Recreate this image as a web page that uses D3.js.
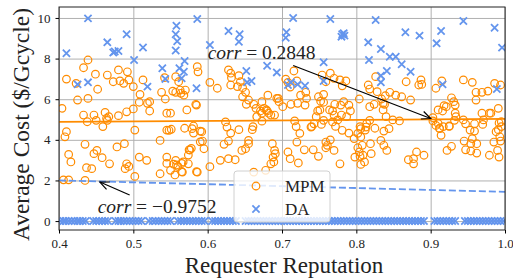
<!DOCTYPE html>
<html>
<head>
<script src="https://d3js.org/d3.v7.min.js"></script>
<style>
  body { margin: 0; background: #fff; }
  text { font-family: "Liberation Serif", serif; fill: #222; }
</style>
</head>
<body>
<svg width="513" height="279"></svg>
<script>
// MPM: scattered costs [reputation, cost]
var mpmPoints = [
  [0.439,7.93],[0.433,7.55],[0.41,6.99],[0.423,6.78],[0.449,7.23],[0.452,6.49],[0.425,5.96],[0.439,6.04],[0.404,5.55],[0.433,5.22],
  [0.447,5.22],[0.462,5.35],[0.467,5.14],[0.48,5.19],[0.465,7.19],[0.473,6.86],[0.48,7.44],[0.482,6.9],[0.487,6.78],[0.492,7.35],
  [0.494,6.95],[0.5,6.62],[0.513,6.95],[0.509,6.24],[0.508,5.85],[0.519,5.8],[0.522,5.42],[0.5,5.52],[0.491,5.38],[0.538,6.34],
  [0.543,6.01],[0.545,5.31],[0.542,7.06],[0.41,4.4],[0.408,4.15],[0.438,4.89],[0.459,4.65],[0.464,5.06],[0.502,4.48],[0.522,5.88],
  [0.545,4.48],[0.551,4.52],[0.572,5.47],[0.569,4.57],[0.581,4.68],[0.585,5.71],[0.592,4.4],[0.563,6.45],[0.45,4.96],[0.465,4.96],
  [0.536,3.97],[0.435,3.78],[0.413,3.28],[0.416,2.91],[0.451,3.48],[0.447,3.32],[0.458,3.12],[0.478,3.65],[0.488,3.81],[0.468,2.82],
  [0.437,2.63],[0.444,2.58],[0.491,2.82],[0.494,2.69],[0.489,2.58],[0.508,3.15],[0.518,2.99],[0.502,2.2],[0.536,2.33],[0.55,2.5],
  [0.545,3.15],[0.406,2.03],[0.413,2.03],[0.435,2.0],[0.556,2.27],[0.558,2.76],[0.565,2.43],[0.574,3.25],[0.576,3.5],[0.578,3.58],
  [0.585,2.43],[0.59,3.9],[0.603,2.68],[0.545,2.84],[0.554,2.8],[0.565,2.84],[0.548,4.47],[0.579,4.55],[0.581,4.33],[0.59,4.43],
  [0.593,3.94],[0.624,4.88],[0.626,4.63],[0.631,4.33],[0.642,4.5],[0.66,4.5],[0.655,3.97],[0.673,4.92],[0.622,3.78],[0.628,3.94],
  [0.617,2.99],[0.628,3.07],[0.637,3.02],[0.646,3.48],[0.651,3.56],[0.655,3.81],[0.687,3.81],[0.69,3.48],[0.691,3.32],[0.688,3.15],
  [0.689,2.91],[0.685,2.82],[0.662,2.41],[0.678,2.5],[0.665,1.71],[0.575,3.51],[0.557,2.99],[0.56,2.69],[0.567,2.91],[0.566,2.41],
  [0.574,2.82],[0.586,2.41],[0.595,3.56],[0.717,4.93],[0.739,4.63],[0.743,4.79],[0.753,4.76],[0.756,4.96],[0.768,4.88],[0.772,4.66],
  [0.781,4.47],[0.79,4.33],[0.797,4.06],[0.806,4.55],[0.813,4.63],[0.818,4.96],[0.837,4.43],[0.844,4.55],[0.806,4.14],[0.808,3.73],
  [0.819,3.81],[0.833,3.97],[0.837,3.73],[0.841,3.48],[0.72,3.89],[0.73,3.51],[0.742,3.51],[0.708,3.4],[0.711,3.07],[0.722,2.86],
  [0.749,3.19],[0.759,3.89],[0.761,3.73],[0.765,4.0],[0.759,3.61],[0.77,3.48],[0.778,2.82],[0.802,3.61],[0.804,3.4],[0.805,3.19],
  [0.798,3.15],[0.809,3.24],[0.811,2.91],[0.806,2.79],[0.82,3.32],[0.858,4.93],[0.903,4.93],[0.907,4.71],[0.912,4.55],[0.914,4.22],
  [0.925,4.66],[0.932,4.96],[0.947,4.79],[0.959,4.79],[0.97,4.76],[0.959,4.43],[0.992,4.83],[0.991,4.5],[0.956,4.06],[0.945,3.94],
  [0.954,3.81],[0.962,3.81],[0.985,3.89],[0.994,3.94],[0.947,3.51],[0.954,3.45],[0.962,3.35],[0.979,3.24],[0.99,3.48],[0.992,3.15],
  [0.922,3.48],[0.928,3.68],[0.87,3.02],[0.877,3.07],[0.881,3.4],[0.891,3.24],[0.877,2.82],[0.586,7.6],[0.587,7.35],[0.557,7.11],
  [0.561,6.86],[0.553,6.4],[0.557,6.34],[0.564,6.29],[0.568,6.2],[0.57,6.45],[0.584,5.75],[0.603,6.83],[0.613,6.54],[0.628,7.44],
  [0.631,7.28],[0.632,7.06],[0.642,7.16],[0.644,6.86],[0.631,6.7],[0.64,6.62],[0.647,6.57],[0.651,6.34],[0.647,6.12],[0.655,5.96],
  [0.652,5.75],[0.662,5.75],[0.665,5.55],[0.671,5.42],[0.676,5.55],[0.68,5.42],[0.682,5.31],[0.69,5.22],[0.681,6.2],[0.693,6.04],
  [0.696,5.88],[0.55,5.31],[0.716,7.39],[0.705,6.99],[0.765,7.28],[0.754,7.19],[0.77,7.03],[0.778,6.95],[0.786,6.9],[0.781,6.66],
  [0.759,6.86],[0.725,6.2],[0.732,6.34],[0.733,6.04],[0.721,5.8],[0.712,5.75],[0.731,5.71],[0.756,6.24],[0.756,5.85],[0.748,5.42],
  [0.768,5.42],[0.77,5.22],[0.779,5.71],[0.783,5.88],[0.79,5.71],[0.792,5.42],[0.804,6.01],[0.816,6.7],[0.818,6.5],[0.826,7.11],
  [0.828,6.37],[0.834,6.01],[0.839,6.17],[0.845,6.34],[0.824,5.75],[0.838,5.75],[0.701,5.63],[0.867,6.86],[0.887,6.95],[0.888,6.73],
  [0.884,6.7],[0.853,6.2],[0.861,6.12],[0.873,5.96],[0.915,6.9],[0.907,6.54],[0.944,6.95],[0.956,6.83],[0.969,6.34],[0.977,6.4],
  [0.961,6.34],[0.986,6.78],[0.994,6.7],[0.928,6.07],[0.931,5.88],[0.933,5.71],[0.918,5.68],[0.916,5.42],[0.933,5.31],[0.961,5.96],
  [0.981,5.31],[0.991,5.55],[0.903,5.09],[0.673,5.88],[0.679,5.47],[0.685,5.22],[0.695,6.04],[0.719,4.65],[0.724,4.32],[0.74,4.65],
  [0.746,5.14],[0.751,5.47],[0.764,5.47],[0.775,4.98],[0.78,5.22],[0.787,5.14],[0.805,4.65],[0.812,4.48],[0.825,4.57],[0.814,4.81],
  [0.836,5.47],[0.84,5.14],[0.849,4.98],[0.836,5.8],[0.818,5.63],[0.91,5.47],[0.921,5.63],[0.91,4.81],[0.912,4.57],[0.917,4.65],
  [0.925,4.68],[0.934,5.14],[0.944,4.98],[0.969,5.31],[0.971,4.98],[0.979,5.31],[0.995,4.89],[0.995,4.65],[0.988,4.4],[0.993,4.15],
  [0.953,4.48],[0.661,4.65],[0.666,5.14],[0.673,5.31],[0.708,6.83],[0.711,6.6],[0.72,6.9],[0.749,6.12],[0.752,5.9],[0.771,5.75],
  [0.802,4.32]
];

// DA: high outliers
var daHigh = [
  [0.439,9.98],[0.41,8.26],[0.465,8.8],[0.491,9.2],[0.473,8.3],[0.48,8.37],[0.475,8.35],[0.513,8.55],[0.501,7.93],[0.425,6.73],
  [0.439,6.83],[0.539,7.52],[0.543,7.0],[0.519,6.62],[0.558,9.62],[0.586,9.95],[0.557,9.2],[0.559,8.85],[0.557,8.4],[0.628,9.36],
  [0.643,9.2],[0.642,8.83],[0.603,8.67],[0.569,7.88],[0.562,7.52],[0.568,7.35],[0.565,7.03],[0.585,6.54],[0.652,7.39],[0.653,6.83],
  [0.659,6.9],[0.68,7.65],[0.693,7.32],[0.715,10.0],[0.765,9.95],[0.826,9.9],[0.706,9.3],[0.705,9.03],[0.781,9.2],[0.784,9.13],
  [0.78,9.08],[0.783,9.25],[0.816,8.8],[0.833,8.47],[0.845,8.09],[0.817,7.93],[0.756,7.82],[0.841,7.39],[0.833,7.16],[0.712,6.83],
  [0.721,6.73],[0.731,6.66],[0.756,6.9],[0.708,6.7],[0.833,6.83],[0.944,9.85],[0.986,9.52],[0.866,9.3],[0.885,9.13],[0.914,9.36],
  [0.908,8.75],[0.996,8.54],[0.853,8.09],[0.861,7.72],[0.873,7.35],[0.916,6.73],[0.989,6.5]
];

// DA: reputations of requesters whose cost is zero
var daZeroX = [
  0.402,0.406,0.409,0.413,0.417,0.421,0.425,0.428,0.432,0.436,0.446,0.45,0.454,0.458,0.462,0.466,0.476,0.48,0.483,0.487,
  0.491,0.495,0.499,0.503,0.507,0.511,0.521,0.526,0.53,0.534,0.538,0.542,0.546,0.55,0.56,0.564,0.568,0.572,0.576,0.58,
  0.584,0.588,0.592,0.596,0.606,0.61,0.614,0.618,0.622,0.626,0.63,0.634,0.638,0.651,0.655,0.659,0.663,0.667,0.671,0.675,
  0.679,0.683,0.687,0.691,0.695,0.699,0.703,0.707,0.711,0.715,0.719,0.723,0.727,0.731,0.735,0.739,0.743,0.747,0.751,0.755,
  0.759,0.763,0.767,0.771,0.775,0.779,0.783,0.787,0.791,0.795,0.799,0.803,0.807,0.811,0.815,0.819,0.823,0.827,0.831,0.835,
  0.839,0.843,0.847,0.851,0.855,0.859,0.863,0.867,0.871,0.875,0.879,0.883,0.887,0.891,0.905,0.909,0.913,0.917,0.921,0.925,
  0.929,0.933,0.946,0.95,0.954,0.958,0.962,0.966,0.97,0.974,0.978,0.982,0.986,0.99,0.994,0.998
];

// fitted trend lines (endpoints)
var mpmTrend = [[0.4, 4.88], [1.0, 5.03]];
var daTrend = [[0.4, 2.0], [1.0, 1.44]];

var xTicks = [0.4, 0.5, 0.6, 0.7, 0.8, 0.9, 1.0];
var yTicks = [0, 2, 4, 6, 8, 10];

var svg = d3.select('svg');
var margin = {left: 59, right: 8, top: 7, bottom: 49};
var w = 513, h = 279;
var innerWidth = w - margin.left - margin.right;
var innerHeight = h - margin.top - margin.bottom;

var x = d3.scaleLinear().domain([0.4, 1.0]).range([0, innerWidth]);
var y = d3.scaleLinear().domain([-0.44, 10.54]).range([innerHeight, 0]);

var orange = '#ff8c00';
var blue = '#6495ed';

var g = svg.append('g').attr('transform', `translate(${margin.left},${margin.top})`);

// grid
g.append('g')
  .attr('transform', `translate(0,${innerHeight})`)
  .call(d3.axisBottom(x).tickValues(xTicks).tickSize(-innerHeight).tickFormat(''))
  .call(s => s.select('.domain').remove())
  .selectAll('line').attr('stroke', '#b0b0b0').attr('stroke-width', 1);
g.append('g')
  .call(d3.axisLeft(y).tickValues(yTicks).tickSize(-innerWidth).tickFormat(''))
  .call(s => s.select('.domain').remove())
  .selectAll('line').attr('stroke', '#b0b0b0').attr('stroke-width', 1);

g.append('clipPath').attr('id', 'clip')
  .append('rect').attr('width', innerWidth).attr('height', innerHeight);
var plot = g.append('g').attr('clip-path', 'url(#clip)');

// MPM circles
plot.selectAll('circle.mpm').data(mpmPoints).enter().append('circle')
  .attr('class', 'mpm')
  .attr('cx', d => x(d[0]))
  .attr('cy', d => y(d[1]))
  .attr('r', 3.8)
  .attr('fill', 'none')
  .attr('stroke', orange)
  .attr('stroke-width', 1.2);

// DA crosses
function xMark(sel, s) {
  sel.attr('d', `M${-s},${-s}L${s},${s}M${-s},${s}L${s},${-s}`)
    .attr('fill', 'none')
    .attr('stroke', blue)
    .attr('stroke-width', 1.8);
}
var daAll = daHigh.concat(daZeroX.map(v => [v, 0]));
plot.selectAll('path.da').data(daAll).enter().append('path')
  .attr('class', 'da')
  .attr('transform', d => `translate(${x(d[0])},${y(d[1])})`)
  .call(xMark, 3.6);

// trend lines
var line = d3.line().x(d => x(d[0])).y(d => y(d[1]));
plot.append('path').datum(mpmTrend).attr('d', line)
  .attr('stroke', orange).attr('stroke-width', 1.8).attr('fill', 'none');
plot.append('path').datum(daTrend).attr('d', line)
  .attr('stroke', blue).attr('stroke-width', 1.8).attr('fill', 'none')
  .attr('stroke-dasharray', '7,3');

// frame
g.append('rect').attr('width', innerWidth).attr('height', innerHeight)
  .attr('fill', 'none').attr('stroke', '#222').attr('stroke-width', 1);

// axes
var xAxis = g.append('g').attr('transform', `translate(0,${innerHeight})`)
  .call(d3.axisBottom(x).tickValues(xTicks).tickSize(3.5).tickPadding(5).tickFormat(d3.format('.1f')));
xAxis.select('.domain').remove();
xAxis.selectAll('text').style('font-size', '13px').attr('fill', '#222')
  .style('font-family', '"Liberation Serif", serif');

var yAxis = g.append('g')
  .call(d3.axisLeft(y).tickValues(yTicks).tickSize(3.5).tickPadding(5));
yAxis.select('.domain').remove();
yAxis.selectAll('text').style('font-size', '13px').attr('fill', '#222')
  .style('font-family', '"Liberation Serif", serif');

svg.append('text')
  .attr('x', margin.left + innerWidth / 2 + 2)
  .attr('y', 273)
  .attr('text-anchor', 'middle')
  .style('font-size', '23px')
  .text('Requester Reputation');

svg.append('text')
  .attr('transform', `translate(29,${margin.top + innerHeight / 2 + 6}) rotate(-90)`)
  .attr('text-anchor', 'middle')
  .style('font-size', '23.5px')
  .text('Average Cost ($/Gcycle)');

// annotations
svg.append('defs').append('marker')
  .attr('id', 'arrow').attr('viewBox', '-10 -6 12 12')
  .attr('refX', 0).attr('refY', 0)
  .attr('markerWidth', 12).attr('markerHeight', 12)
  .attr('markerUnits', 'userSpaceOnUse')
  .attr('orient', 'auto')
  .append('path').attr('d', 'M-9,-4L0,0L-9,4')
  .attr('fill', 'none').attr('stroke', '#000').attr('stroke-width', 1.2);

function annotate(txt, tx, ty, from, to) {
  var t = g.append('text').attr('x', x(tx)).attr('y', y(ty)).style('font-size', '19.5px');
  t.append('tspan').style('font-style', 'italic').text('corr');
  t.append('tspan').text(' = ' + txt);
  g.append('line')
    .attr('x1', x(from[0])).attr('y1', y(from[1]))
    .attr('x2', x(to[0])).attr('y2', y(to[1]))
    .attr('stroke', '#000').attr('stroke-width', 1.2)
    .attr('marker-end', 'url(#arrow)');
}
annotate('0.2848', 0.6, 7.98, [0.715, 7.66], [0.9, 5.05]);
annotate('\u22120.9752', 0.452, 0.4, [0.495, 1.28], [0.455, 1.92]);

// legend
var lg = svg.append('g').attr('transform', 'translate(234,171)');
lg.append('rect').attr('width', 96).attr('height', 51).attr('rx', 3)
  .attr('fill', 'white').attr('fill-opacity', 0.8)
  .attr('stroke', '#d0d0d0').attr('stroke-width', 1);
lg.append('circle').attr('cx', 22).attr('cy', 15).attr('r', 3.8)
  .attr('fill', 'none').attr('stroke', orange).attr('stroke-width', 1.2);
lg.append('path').attr('transform', 'translate(22,38)').call(xMark, 3.6);
lg.append('text').attr('x', 51).attr('y', 21).style('font-size', '17px').text('MPM');
lg.append('text').attr('x', 51).attr('y', 44).style('font-size', '17px').text('DA');
</script>
</body>
</html>
